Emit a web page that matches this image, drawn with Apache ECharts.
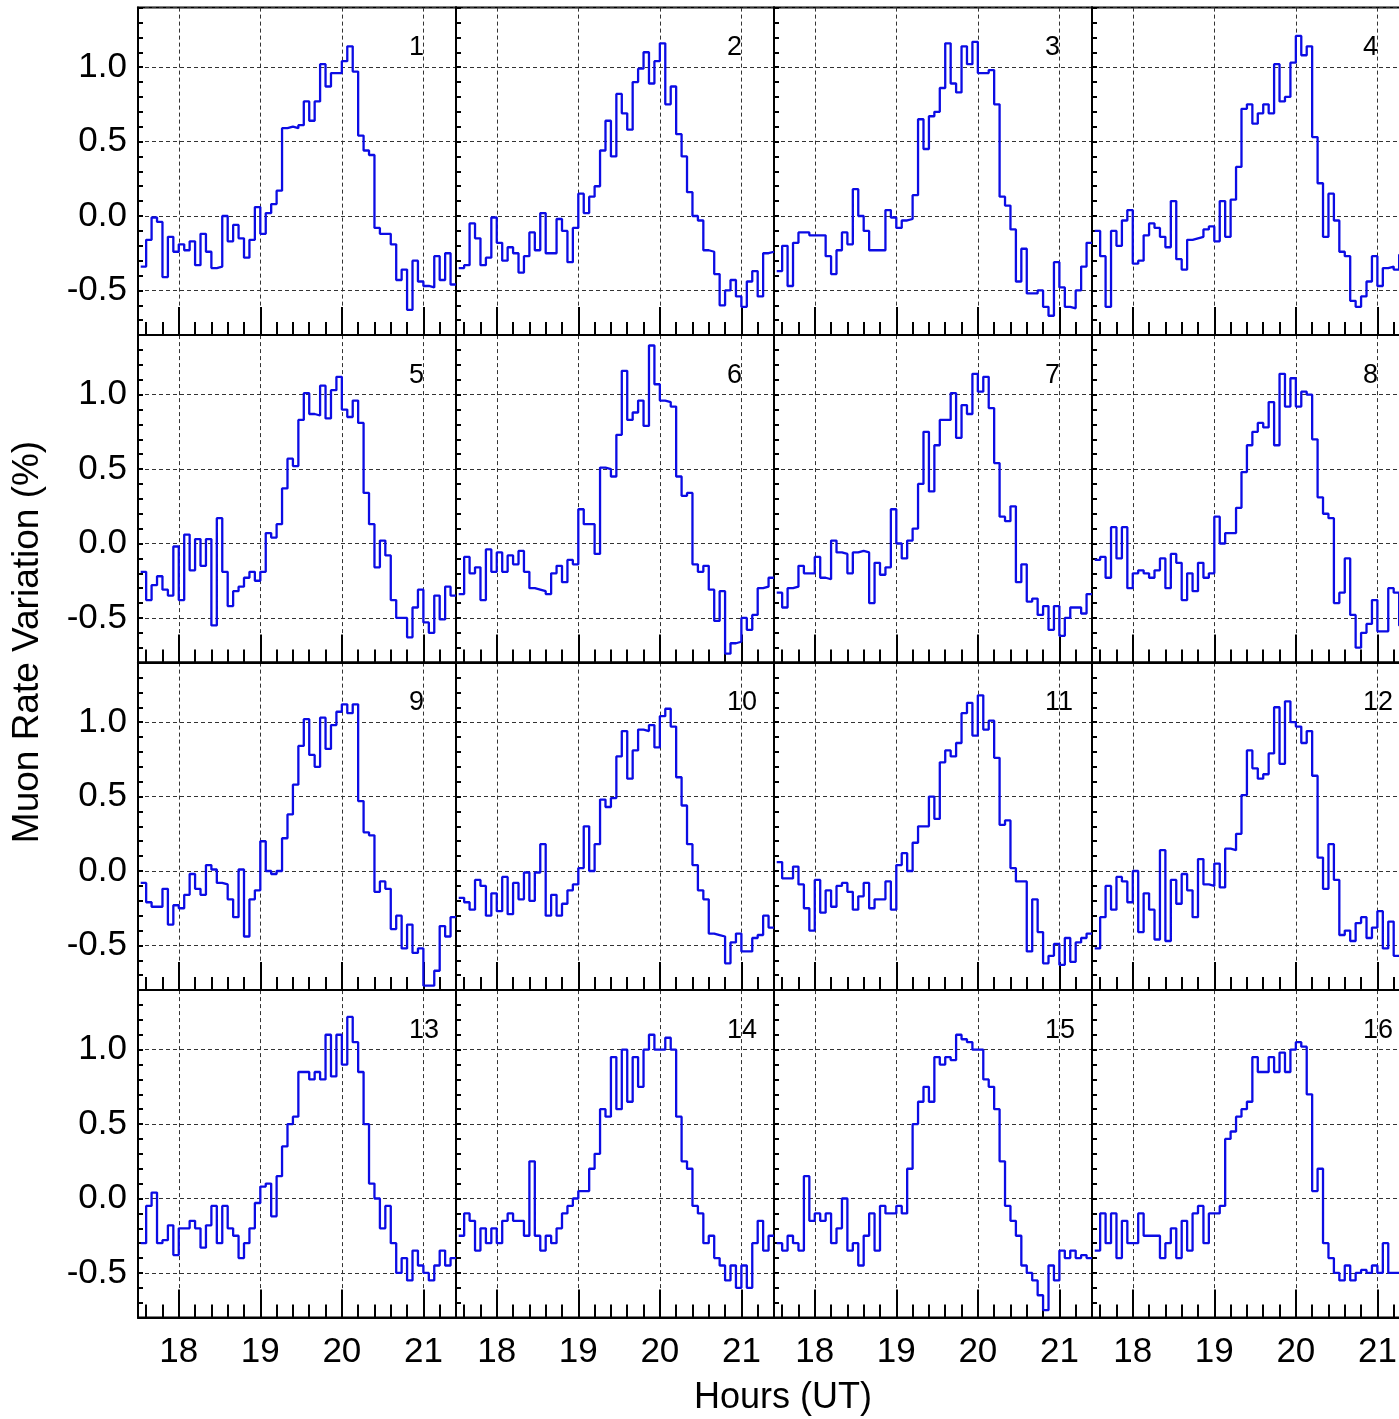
<!DOCTYPE html>
<html><head><meta charset="utf-8">
<script src="https://cdn.jsdelivr.net/npm/echarts@6/dist/echarts.min.js"></script>
<style>html,body{margin:0;padding:0;background:#fff}#c{width:1399px;height:1419px}</style>
</head><body><div id="c"></div>
<script>
// time axis: 4-minute bins (hours UT)
const BIN_START = 17 + 8 / 15;
const BIN_WIDTH = 1 / 15;
const X_MIN = 17.5, X_MAX = 21.4;
const Y_MIN = -0.8, Y_MAX = 1.4;
const X_TICK_LABELS = ['18', '19', '20', '21'];
const Y_TICK_LABELS = ['-0.5', '0.0', '0.5', '1.0'];
const PANEL_NAMES = ['1','2','3','4','5','6','7','8','9','10','11','12','13','14','15','16'];
const X_TITLE = 'Hours (UT)';
const Y_TITLE = 'Muon Rate Variation (%)';

// muon rate variation (%) per 4-minute bin, one array per panel
const panel1 = [-0.34,-0.16,-0.01,-0.04,-0.41,-0.14,-0.24,-0.19,-0.23,-0.17,-0.33,-0.12,-0.24,-0.35,-0.34,0.00,-0.17,-0.06,-0.15,-0.28,-0.16,0.06,-0.12,0.02,0.08,0.17,0.59,0.60,0.59,0.61,0.77,0.64,0.77,1.02,0.87,0.96,0.96,1.04,1.14,0.97,0.54,0.44,0.41,-0.08,-0.12,-0.12,-0.19,-0.43,-0.36,-0.63,-0.30,-0.44,-0.47,-0.48,-0.27,-0.43,-0.25,-0.46];
const panel2 = [-0.35,-0.33,-0.05,-0.15,-0.33,-0.28,-0.01,-0.18,-0.30,-0.21,-0.25,-0.38,-0.27,-0.11,-0.23,0.02,-0.25,-0.25,-0.02,-0.10,-0.31,-0.08,0.15,0.02,0.13,0.20,0.44,0.64,0.40,0.82,0.69,0.58,0.90,0.99,1.10,0.89,1.04,1.16,0.75,0.87,0.55,0.40,0.16,0.00,-0.03,-0.23,-0.24,-0.39,-0.60,-0.50,-0.43,-0.54,-0.61,-0.44,-0.37,-0.54,-0.25,-0.24];
const panel3 = [-0.37,-0.20,-0.47,-0.18,-0.11,-0.11,-0.13,-0.13,-0.13,-0.27,-0.39,-0.23,-0.11,-0.19,0.18,0.00,-0.10,-0.23,-0.23,-0.23,0.04,-0.01,-0.08,-0.03,-0.02,0.14,0.65,0.45,0.67,0.70,0.86,1.16,0.89,0.83,1.14,1.02,1.17,0.96,0.96,0.98,0.75,0.13,0.07,-0.09,-0.44,-0.22,-0.52,-0.52,-0.50,-0.61,-0.67,-0.31,-0.48,-0.61,-0.62,-0.50,-0.34,-0.18];
const panel4 = [-0.10,-0.27,-0.61,-0.10,-0.20,-0.03,0.04,-0.32,-0.30,-0.13,-0.05,-0.08,-0.14,-0.21,0.10,-0.29,-0.36,-0.16,-0.15,-0.14,-0.09,-0.07,-0.17,0.10,-0.14,0.11,0.33,0.72,0.75,0.62,0.69,0.75,0.69,1.02,0.77,0.80,1.03,1.21,1.08,1.14,0.53,0.22,-0.14,0.15,-0.03,-0.24,-0.27,-0.57,-0.61,-0.54,-0.44,-0.27,-0.47,-0.35,-0.34,-0.36,-0.26];
const panel5 = [-0.19,-0.38,-0.28,-0.22,-0.31,-0.35,-0.02,-0.38,0.06,-0.18,0.03,-0.15,0.03,-0.55,0.17,-0.19,-0.42,-0.32,-0.29,-0.23,-0.19,-0.25,-0.19,0.07,0.04,0.13,0.37,0.57,0.52,0.83,1.01,0.87,0.86,1.06,0.84,1.03,1.12,0.90,0.85,0.96,0.81,0.34,0.13,-0.16,0.02,-0.08,-0.38,-0.50,-0.50,-0.63,-0.43,-0.31,-0.53,-0.60,-0.35,-0.51,-0.29,-0.35];
const panel6 = [-0.34,-0.09,-0.20,-0.16,-0.38,-0.04,-0.19,-0.06,-0.19,-0.08,-0.14,-0.05,-0.19,-0.30,-0.31,-0.32,-0.34,-0.20,-0.15,-0.26,-0.11,-0.14,0.23,0.13,0.13,-0.07,0.51,0.50,0.45,0.73,1.16,0.83,0.88,0.96,0.79,1.33,1.07,0.96,0.95,0.92,0.45,0.32,0.34,-0.14,-0.19,-0.15,-0.31,-0.52,-0.32,-0.74,-0.67,-0.66,-0.50,-0.58,-0.48,-0.30,-0.29,-0.23];
const panel7 = [-0.33,-0.43,-0.30,-0.29,-0.15,-0.20,-0.20,-0.09,-0.23,-0.24,0.02,-0.06,-0.07,-0.20,-0.06,-0.05,-0.06,-0.40,-0.13,-0.21,-0.16,0.23,0.00,-0.10,0.02,0.10,0.40,0.75,0.35,0.66,0.83,0.83,1.01,0.71,0.93,0.87,1.14,1.02,1.12,0.91,0.54,0.18,0.15,0.25,-0.26,-0.14,-0.39,-0.37,-0.48,-0.42,-0.58,-0.42,-0.62,-0.50,-0.43,-0.43,-0.47,-0.34];
const panel8 = [-0.11,-0.09,-0.23,0.11,-0.10,0.11,-0.30,-0.20,-0.18,-0.20,-0.23,-0.18,-0.10,-0.30,-0.07,-0.13,-0.38,-0.20,-0.32,-0.13,-0.23,-0.20,0.18,0.00,0.07,0.07,0.24,0.48,0.66,0.75,0.81,0.78,0.95,0.66,1.14,0.92,1.11,0.92,1.02,1.00,0.70,0.31,0.20,0.17,-0.40,-0.33,-0.10,-0.48,-0.70,-0.60,-0.54,-0.38,-0.59,-0.59,-0.30,-0.33,-0.55];
const panel9 = [-0.08,-0.21,-0.24,-0.24,-0.12,-0.36,-0.23,-0.25,-0.16,-0.02,-0.12,-0.16,0.04,0.01,-0.08,-0.09,-0.19,-0.31,0.01,-0.44,-0.19,-0.13,0.20,0.00,-0.02,0.00,0.22,0.38,0.58,0.84,1.02,0.78,0.70,1.03,0.82,0.98,1.07,1.12,1.06,1.12,0.47,0.26,0.24,-0.14,-0.07,-0.12,-0.39,-0.30,-0.52,-0.36,-0.55,-0.52,-0.77,-0.77,-0.67,-0.37,-0.44,-0.31];
const panel10 = [-0.18,-0.21,-0.26,-0.06,-0.10,-0.30,-0.15,-0.27,-0.04,-0.29,-0.08,-0.19,-0.01,-0.20,-0.01,0.18,-0.30,-0.16,-0.30,-0.22,-0.13,-0.09,0.02,0.30,0.00,0.18,0.48,0.43,0.49,0.77,0.94,0.62,0.81,0.95,0.94,0.98,0.83,1.04,1.09,0.97,0.63,0.44,0.18,0.04,-0.13,-0.19,-0.42,-0.43,-0.44,-0.62,-0.48,-0.42,-0.54,-0.54,-0.45,-0.43,-0.30,-0.38];
const panel11 = [0.06,-0.05,-0.05,0.03,-0.09,-0.25,-0.40,-0.06,-0.28,-0.13,-0.24,-0.10,-0.08,-0.14,-0.26,-0.17,-0.08,-0.25,-0.19,-0.19,-0.07,-0.26,0.04,0.12,0.00,0.19,0.30,0.30,0.50,0.35,0.73,0.81,0.77,0.86,1.06,1.13,0.91,1.18,0.95,1.01,0.76,0.31,0.34,0.02,-0.07,-0.07,-0.54,-0.19,-0.41,-0.62,-0.57,-0.49,-0.63,-0.45,-0.61,-0.48,-0.45,-0.42];
const panel12 = [-0.52,-0.31,-0.10,-0.26,-0.04,-0.07,-0.21,0.00,-0.41,-0.15,-0.26,-0.46,0.14,-0.47,-0.06,-0.22,-0.02,-0.13,-0.31,0.08,-0.09,-0.10,0.05,-0.11,0.15,0.14,0.25,0.51,0.81,0.69,0.62,0.65,0.79,1.10,0.72,1.14,1.00,0.97,0.86,0.94,0.64,0.09,-0.12,0.18,-0.06,-0.43,-0.40,-0.47,-0.35,-0.31,-0.45,-0.38,-0.27,-0.52,-0.34,-0.57];
const panel13 = [-0.30,-0.05,0.04,-0.30,-0.28,-0.18,-0.38,-0.20,-0.20,-0.15,-0.20,-0.33,-0.18,-0.05,-0.30,-0.05,-0.20,-0.25,-0.40,-0.30,-0.20,-0.03,0.08,0.10,-0.12,0.15,0.35,0.50,0.55,0.85,0.85,0.80,0.85,0.80,1.10,0.82,1.10,0.90,1.22,1.05,0.85,0.50,0.10,0.00,-0.20,-0.05,-0.30,-0.50,-0.40,-0.55,-0.35,-0.45,-0.50,-0.55,-0.45,-0.35,-0.45,-0.40];
const panel14 = [-0.25,-0.10,-0.15,-0.35,-0.20,-0.30,-0.20,-0.30,-0.15,-0.10,-0.15,-0.15,-0.25,0.25,-0.25,-0.35,-0.25,-0.30,-0.20,-0.10,-0.05,0.00,0.05,0.05,0.20,0.30,0.60,0.55,0.95,0.60,1.00,0.65,0.95,0.75,1.00,1.10,1.00,1.00,1.08,1.00,0.55,0.25,0.20,-0.05,-0.10,-0.30,-0.25,-0.40,-0.45,-0.55,-0.45,-0.60,-0.45,-0.60,-0.30,-0.15,-0.35,-0.25];
const panel15 = [-0.30,-0.35,-0.25,-0.30,-0.35,0.15,-0.15,-0.10,-0.15,-0.10,-0.30,-0.20,0.00,-0.35,-0.30,-0.45,-0.25,-0.10,-0.35,-0.05,-0.10,-0.10,-0.05,-0.10,0.20,0.50,0.65,0.75,0.65,0.95,0.90,0.95,0.93,1.10,1.07,1.05,1.00,1.00,0.80,0.75,0.60,0.25,-0.05,-0.15,-0.25,-0.45,-0.50,-0.55,-0.65,-0.75,-0.45,-0.55,-0.35,-0.40,-0.35,-0.40,-0.38,-0.40];
const panel16 = [-0.35,-0.10,-0.30,-0.10,-0.40,-0.15,-0.30,-0.30,-0.10,-0.25,-0.25,-0.25,-0.40,-0.30,-0.20,-0.40,-0.15,-0.35,-0.10,-0.05,-0.30,-0.10,-0.10,-0.05,0.40,0.45,0.55,0.60,0.65,0.95,0.85,0.85,0.95,0.85,0.98,0.85,1.00,1.05,1.02,0.70,0.05,0.20,-0.30,-0.40,-0.50,-0.55,-0.45,-0.55,-0.50,-0.48,-0.50,-0.45,-0.50,-0.30,-0.50,-0.50];

const PANELS = [panel1,panel2,panel3,panel4,panel5,panel6,panel7,panel8,panel9,panel10,panel11,panel12,panel13,panel14,panel15,panel16];

// layout (pixels)
const LEFT0 = 138, PW = 318, TOP0 = 7.6, PH = 327.5;
const FONT = 'Liberation Sans, Arial, Helvetica, sans-serif';
const LINE_COLOR = '#0c0ce4';

const grids = [], xAxes = [], yAxes = [], series = [], graphics = [];
PANELS.forEach((vals, k) => {
  const r = Math.floor(k / 4), c = k % 4;
  const left = LEFT0 + c * PW, top = TOP0 + r * PH;
  grids.push({left: left, top: top, width: PW, height: PH, show: true, borderColor: '#000', borderWidth: 2,
    backgroundColor: 'transparent', containLabel: false, outerBoundsMode: 'none'});
  xAxes.push({
    type: 'value', gridIndex: k, min: X_MIN, max: X_MAX, splitNumber: 4,
    axisLine: {show: true, onZero: false, lineStyle: {color: '#000', width: 2}},
    axisTick: {show: true, inside: true, length: 28, lineStyle: {color: '#000', width: 2}},
    minorTick: {show: true, splitNumber: 5, length: 13, lineStyle: {color: '#000', width: 2}},
    splitLine: {show: true, lineStyle: {color: '#333', width: 1, type: [4, 3]}},
    axisLabel: {show: r === 3, fontSize: 35, color: '#000', fontFamily: FONT, margin: 17,
      showMinLabel: false, showMaxLabel: false,
      formatter: v => { const s = String(Math.round(v)); return (Math.abs(v - Math.round(v)) < 1e-6 && X_TICK_LABELS.includes(s)) ? s : ''; }}
  });
  yAxes.push({
    type: 'value', gridIndex: k, min: Y_MIN, max: Y_MAX, splitNumber: 4,
    axisLine: {show: true, onZero: false, lineStyle: {color: '#000', width: 2}},
    axisTick: {show: true, inside: true, length: 5, lineStyle: {color: '#000', width: 2}},
    minorTick: {show: true, splitNumber: 5, length: 5, lineStyle: {color: '#000', width: 2}},
    splitLine: {show: true, lineStyle: {color: '#333', width: 1, type: [4, 3]}},
    axisLabel: {show: c === 0, fontSize: 35, color: '#000', fontFamily: FONT, margin: 11,
      showMinLabel: false, showMaxLabel: false,
      formatter: v => { const s = v.toFixed(1); return Y_TICK_LABELS.includes(s) && Math.abs(v * 2 - Math.round(v * 2)) < 1e-6 ? s : ''; }}
  });
  const pts = vals.map((v, i) => [BIN_START + i * BIN_WIDTH, v]);
  pts.push([BIN_START + vals.length * BIN_WIDTH, vals[vals.length - 1]]);
  series.push({type: 'line', xAxisIndex: k, yAxisIndex: k, step: 'end', symbol: 'none', showSymbol: false,
    data: pts, lineStyle: {color: LINE_COLOR, width: 2.3}, itemStyle: {color: LINE_COLOR}, z: 3, clip: true, animation: false});
  graphics.push({type: 'text', x: left + 271, y: top + 40, z: 10,
    style: {text: PANEL_NAMES[k], fontSize: 27, fontFamily: FONT, fill: '#000', align: 'left', verticalAlign: 'middle', textAlign: 'left', textVerticalAlign: 'middle'}});
});
graphics.push({type: 'text', x: 28, y: 642, rotation: Math.PI / 2, z: 10,
  style: {text: Y_TITLE, fontSize: 37, fontFamily: FONT, fill: '#000', align: 'center', verticalAlign: 'middle', textAlign: 'center', textVerticalAlign: 'middle'}});
graphics.push({type: 'text', x: 783, y: 1398, z: 10,
  style: {text: X_TITLE, fontSize: 36, fontFamily: FONT, fill: '#000', align: 'center', verticalAlign: 'middle', textAlign: 'center', textVerticalAlign: 'middle'}});

const chart = echarts.init(document.getElementById('c'), null, {renderer: 'canvas', width: 1399, height: 1419});
chart.setOption({
  animation: false,
  backgroundColor: '#fff',
  grid: grids, xAxis: xAxes, yAxis: yAxes, series: series, graphic: graphics
});
</script></body></html>
